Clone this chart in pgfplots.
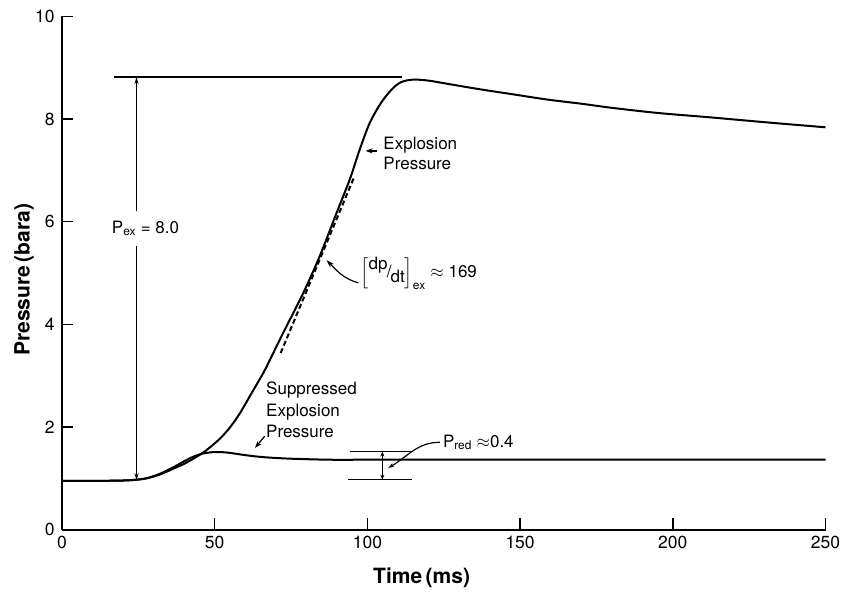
\documentclass[border=0pt]{standalone}
\usepackage{pgfplots}
\pgfplotsset{compat=1.18}
\usepackage{amsmath}
\usepackage{fontspec}
\setmainfont{TeX Gyre Heros}
\usetikzlibrary{arrows.meta}

\begin{document}
\begin{tikzpicture}
\useasboundingbox (-62bp,-62.5bp) rectangle (780bp,529.5bp);
\begin{axis}[
 at={(0,0)}, anchor=south west,
 scale only axis, width=763.5bp, height=513bp,
 xmin=0, xmax=250, ymin=0, ymax=10,
 axis lines=left,
 axis line style={-, line width=2bp},
 xtick={0,50,...,250}, ytick={0,2,...,10},
 tick align=inside,
 major tick length=11bp,
 tick style={line width=1.5bp, black},
 /pgf/number format/assume math mode=true,
 tick label style={font=\fontsize{17.5bp}{20bp}\selectfont},
 yticklabel style={xshift=-4bp},
 xticklabel style={yshift=-3bp},
 xlabel={Time\,(ms)}, ylabel={Pressure\,(bara)},
 label style={font=\fontsize{21bp}{24bp}\selectfont\bfseries},
 xlabel style={at={(axis description cs:0.471,-0.0936)}, anchor=center},
 ylabel style={at={(axis description cs:-0.0498,0.487)}, anchor=center},
 clip=false,
]
% explosion pressure curve
\addplot[line width=2bp, smooth, tension=0.5] coordinates {
(0,0.95) (15,0.95) (22,0.96) (27,0.99) (31,1.05) (34,1.12) (37,1.20) (40,1.28)
(43,1.38) (45.5,1.47) (48,1.58) (51.7,1.77) (55,1.99) (58.3,2.27) (62,2.65)
(65.9,3.05) (68.1,3.31) (72.4,3.83) (79.0,4.61) (84.4,5.33) (89.9,6.17)
(94.2,6.82) (97.5,7.41) (100.8,7.93) (104.5,8.32) (108,8.58) (111,8.72)
(115,8.77) (120,8.75) (126,8.69) (137,8.58) (148,8.48) (159,8.38) (170,8.30)
(180,8.22) (195,8.12) (213,8.03) (230,7.94) (250,7.84)
};
% suppressed explosion pressure curve
\addplot[line width=2bp, smooth, tension=0.5] coordinates {
(0,0.95) (15,0.95) (22,0.96) (27,0.99) (31,1.06) (34,1.14) (37,1.23) (40,1.33)
(43,1.42) (46,1.48) (50,1.51) (54,1.50) (60,1.45) (66,1.41) (75,1.38)
(88,1.36) (100,1.36) (150,1.36) (200,1.36) (250,1.36)
};
% tangent (dashed)
\addplot[line width=2bp, dash pattern=on 5bp off 3bp] coordinates {(71.6,3.44) (95.8,6.89)};

% P_ex dimension
\draw[line width=1.2bp] (axis cs:17.1,8.82) -- (axis cs:111.2,8.82);
\draw[line width=1.2bp, -{Stealth[length=7bp,width=4bp]}] (axis cs:24.4,6.2) -- (axis cs:24.4,8.82);
\draw[line width=1.2bp, -{Stealth[length=7bp,width=4bp]}] (axis cs:24.4,5.53) -- (axis cs:24.4,0.96);
\node[anchor=west, inner sep=0, font=\fontsize{17bp}{20bp}\selectfont] at (axis cs:16.3,5.87) {P\textsubscript{ex} = 8.0};

% Explosion Pressure label
\node[anchor=west, align=left, inner sep=0, font=\fontsize{17bp}{20bp}\selectfont] at (axis cs:105.2,7.33) {Explosion\\Pressure};
\draw[line width=1.2bp, -{Stealth[length=7bp,width=5bp]}] (axis cs:103,7.38) -- (axis cs:99.4,7.38);

% Suppressed label
\node[anchor=west, align=left, inner sep=0, font=\fontsize{17bp}{21.5bp}\selectfont] at (axis cs:66.8,2.33) {Suppressed\\Explosion\\Pressure};
\draw[line width=1.2bp, -{Stealth[length=7bp,width=5bp]}] (axis cs:66.4,1.82) -- (axis cs:63.2,1.59);

% dp/dt label
\node[anchor=west, inner sep=0, font=\fontsize{17bp}{20bp}\selectfont] at (axis cs:97.7,4.99)
 {$\left[\text{\raisebox{0.9ex}{dp}\kern-0.05em/\kern-0.05em\raisebox{-0.5ex}{dt}}\right]_{\text{ex}}$ $\approx$ 169};
\draw[line width=1.2bp, -{Stealth[length=8bp,width=5bp]}] (axis cs:97,4.81) to[out=165,in=-45] (axis cs:86.6,5.25);

% P_red
\draw[line width=1.2bp] (axis cs:94.3,1.52) -- (axis cs:114.5,1.52);
\draw[line width=1.2bp] (axis cs:93.6,0.97) -- (axis cs:114.5,0.97);
\draw[line width=1bp, {Stealth[length=5bp,width=4bp]}-{Stealth[length=5bp,width=4bp]}] (axis cs:104.9,1.52) -- (axis cs:104.9,0.97);
\node[anchor=west, inner sep=0, font=\fontsize{17bp}{20bp}\selectfont] at (axis cs:124.7,1.70) {P\textsubscript{red} $\approx$0.4};
\draw[line width=1.2bp, -{Stealth[length=6bp,width=4bp]}] (axis cs:123.7,1.70) to[out=180,in=30] (axis cs:106.8,1.20);
\end{axis}
\end{tikzpicture}
\end{document}
